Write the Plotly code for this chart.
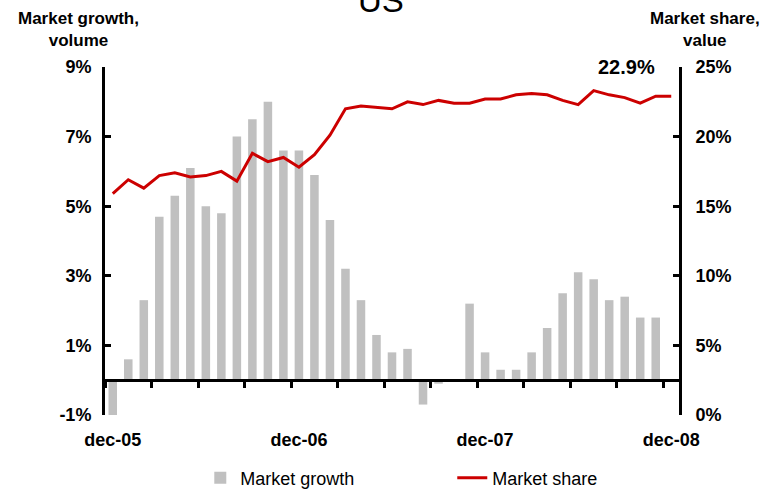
import plotly.graph_objects as go

months = ["dec-05", "jan-06", "feb-06", "mar-06", "apr-06", "may-06", "jun-06", "jul-06",
          "aug-06", "sep-06", "oct-06", "nov-06", "dec-06", "jan-07", "feb-07", "mar-07",
          "apr-07", "may-07", "jun-07", "jul-07", "aug-07", "sep-07", "oct-07", "nov-07",
          "dec-07", "jan-08", "feb-08", "mar-08", "apr-08", "may-08", "jun-08", "jul-08",
          "aug-08", "sep-08", "oct-08", "nov-08", "dec-08"]
market_growth = [-1.0, 0.6, 2.3, 4.7, 5.3, 6.1, 5.0, 4.8, 7.0, 7.5, 8.0, 6.6, 6.6, 5.9,
                 4.6, 3.2, 2.3, 1.3, 0.8, 0.9, -0.7, -0.1, 0.0, 2.2, 0.8, 0.3, 0.3, 0.8,
                 1.5, 2.5, 3.1, 2.9, 2.3, 2.4, 1.8, 1.8, None]
market_share = [15.9, 16.9, 16.3, 17.2, 17.4, 17.1, 17.2, 17.5, 16.8, 18.8, 18.2, 18.5,
                17.8, 18.7, 20.1, 22.0, 22.2, 22.1, 22.0, 22.5, 22.3, 22.6, 22.4, 22.4,
                22.7, 22.7, 23.0, 23.1, 23.0, 22.6, 22.3, 23.3, 23.0, 22.8, 22.4, 22.9, 22.9]
label_months = ["dec-05", "dec-06", "dec-07", "dec-08"]
left_ticks = [-1, 1, 3, 5, 7, 9]
right_ticks = [0, 5, 10, 15, 20, 25]

FONT = "Liberation Sans, Arial, sans-serif"
idx = list(range(len(months)))
label_idx = [months.index(m) for m in label_months]

fig = go.Figure()
fig.add_trace(go.Bar(x=idx, y=market_growth, name="Market growth",
                     marker=dict(color="#C0C0C0", line=dict(width=0)),
                     legend="legend", hoverinfo="x+y"))
fig.add_trace(go.Scatter(x=idx, y=market_share, name="Market share", mode="lines",
                         line=dict(color="#CC0000", width=3), xaxis="x2", yaxis="y2",
                         legend="legend2"))

xr = [-0.5, len(months) - 0.5]
fig.update_layout(
    width=767, height=490,
    margin=dict(l=105, r=88, t=67, b=75, autoexpand=False),
    plot_bgcolor="white", paper_bgcolor="white",
    font=dict(family=FONT, color="black"),
    bargap=0.45,
    showlegend=True,
    xaxis=dict(range=xr, showline=False, showgrid=False, zeroline=False,
               tickmode="array", tickvals=label_idx, ticktext=label_months,
               ticks="", ticklabelstandoff=12,
               tickfont=dict(size=18, family=FONT, weight="bold")),
    xaxis2=dict(range=xr, overlaying="x", anchor="free", position=0.1,
                showline=True, linecolor="black", linewidth=3, showgrid=False,
                zeroline=False, ticks="outside", ticklen=6, tickwidth=2.5,
                tickcolor="black", tickmode="linear", tick0=2.5, dtick=3,
                showticklabels=False),
    yaxis=dict(range=[-1, 9], tickvals=left_ticks,
               ticktext=[f"{v}%" for v in left_ticks],
               showline=True, linecolor="black", linewidth=3, showgrid=False,
               zeroline=False, ticks="inside", ticklen=6, tickwidth=2.5,
               tickcolor="black", ticklabelstandoff=7,
               tickfont=dict(size=18, family=FONT, weight="bold")),
    yaxis2=dict(range=[0, 25], tickvals=right_ticks,
                ticktext=[f"{v}%" for v in right_ticks],
                overlaying="y", side="right", anchor="x",
                showline=True, linecolor="black", linewidth=3, showgrid=False,
                zeroline=False, ticks="inside", ticklen=6, tickwidth=2.5,
                tickcolor="black", ticklabelstandoff=10,
                tickfont=dict(size=18, family=FONT, weight="bold")),
    legend=dict(orientation="h", x=0.166, y=-0.181, xanchor="left", yanchor="middle",
                font=dict(size=18, family=FONT), bgcolor="rgba(0,0,0,0)"),
    legend2=dict(orientation="h", x=0.605, y=-0.181, xanchor="left", yanchor="middle",
                 font=dict(size=18, family=FONT), bgcolor="rgba(0,0,0,0)"),
    annotations=[
        dict(text="US", xref="paper", yref="paper", x=0.481, y=1.1925,
             xanchor="center", yanchor="middle", showarrow=False,
             font=dict(size=33, family=FONT)),
        dict(text="Market growth,<br>volume", xref="paper", yref="paper",
             x=-0.047, y=1.109, xanchor="center", yanchor="middle", showarrow=False,
             font=dict(size=17, family=FONT, weight="bold")),
        dict(text="Market share,<br>value", xref="paper", yref="paper",
             x=1.045, y=1.109, xanchor="center", yanchor="middle", showarrow=False,
             font=dict(size=17, family=FONT, weight="bold")),
        dict(text=f"{market_share[-1]:.1f}%", xref="paper", yref="y2",
             x=0.909, y=25, xanchor="center", yanchor="middle", showarrow=False,
             font=dict(size=20, family=FONT, weight="bold")),
    ],
)

fig.write_html("out.html", config={"displayModeBar": False},
               post_script="document.body.style.margin='0px';")
